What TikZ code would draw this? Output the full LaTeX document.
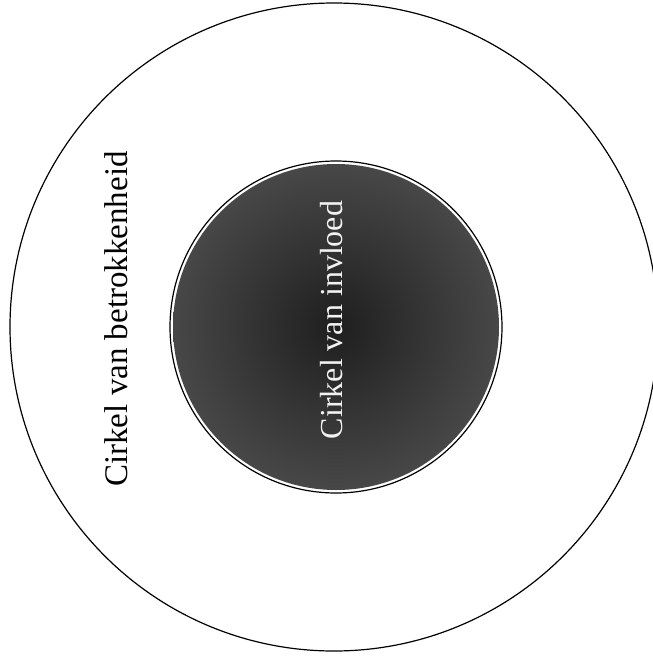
\documentclass[tikz,border=0pt]{standalone}
\usepackage{fontspec}
\setmainfont{Liberation Serif}

\begin{document}
\begin{tikzpicture}[x=1pt, y=-1pt]

    \def\cx{334}
    \def\cy{327}
    \def\rout{324}
    \def\rin{166}

    \tikzset{
        ringlabel/.style={rotate=90, font=\fontsize{33}{40}\selectfont, inner sep=0pt},
        corelabel/.style={rotate=90, font=\fontsize{32}{38}\selectfont, inner sep=0pt, text=black!5}
    }

    % ── Canvas ───────────────────────────────────────────────────────────────
    \useasboundingbox (0,0) rectangle (653,662);
    \fill[white] (0,0) rectangle (653,662);

    % ── Outer circle ─────────────────────────────────────────────────────────
    \draw[line width=1.2pt] (\cx,\cy) circle (\rout);

    % ── Inner circle: outline, thin white gap, dark core ─────────────────────
    \draw[line width=1.2pt] (336,\cy) circle (\rin);
    \shade[inner color=black!88, outer color=black!72] (336,\cy) circle ({\rin-3});

    % ── Labels ───────────────────────────────────────────────────────────────
    \node[ringlabel] (betrokken) at (116,319) {Cirkel van betrokkenheid};
    \node[corelabel] (invloed) at (332,320) {Cirkel van invloed};

\end{tikzpicture}
\end{document}
